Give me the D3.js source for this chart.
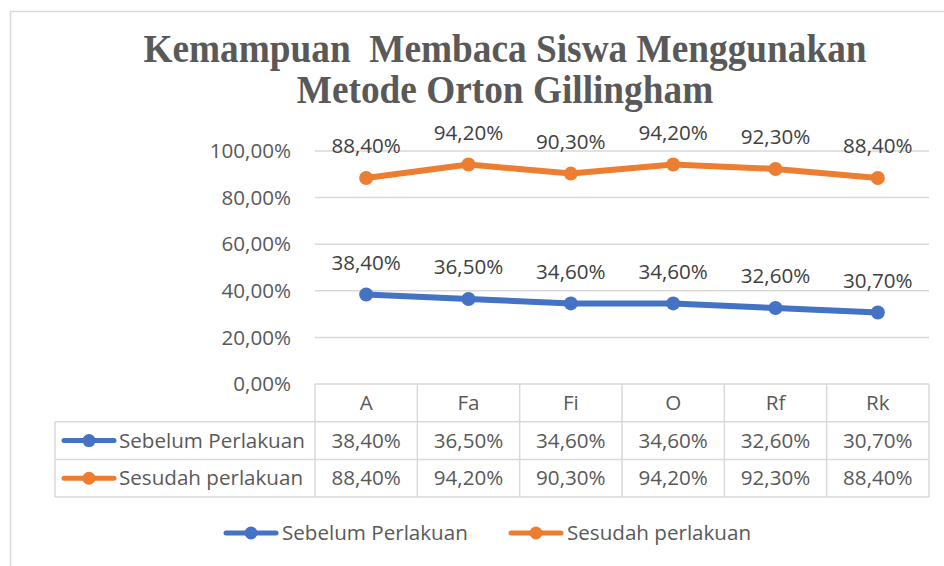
<!DOCTYPE html>
<html>
<head>
<meta charset="UTF-8">
<script src="https://cdn.jsdelivr.net/npm/d3@7"></script>
<style>
  body { margin: 0; background: #fff; }
  svg text { font-family: "Open Sans", Lato, sans-serif; }
</style>
</head>
<body>
<div id="chart"></div>
<script>
// data
var categories = ["A", "Fa", "Fi", "O", "Rf", "Rk"];
var sebelum = [0.384, 0.365, 0.346, 0.346, 0.326, 0.307];
var sesudah = [0.884, 0.942, 0.903, 0.942, 0.923, 0.884];
var seriesNames = ["Sebelum Perlakuan", "Sesudah perlakuan"];
var yTicks = [0, 0.2, 0.4, 0.6, 0.8, 1.0];
var titleLines = ["Kemampuan  Membaca Siswa Menggunakan", "Metode Orton Gillingham"];

var colors = ["#4472C4", "#ED7D31"];
var series = [sebelum, sesudah];

var width = 944, height = 566;
var plot = { left: 315, right: 929, top: 151, bottom: 384 };
var rowH = 37.7;
var legendColLeft = 55;
var fs = "20.6px";

var fmt = function (v) { return (v * 100).toFixed(2).replace(".", ",") + "%"; };

var svg = d3.select("#chart").append("svg")
    .attr("width", width)
    .attr("height", height);

// outer chart border
svg.append("rect")
    .attr("x", 10.5).attr("y", 11.5)
    .attr("width", 960).attr("height", 600)
    .attr("fill", "none")
    .attr("stroke", "#d9d9d9")
    .attr("stroke-width", 1.5);

// title (slightly taller glyphs than plain Times)
svg.append("g").selectAll("text")
    .data(titleLines)
  .enter().append("text")
    .attr("transform", function (d, i) { return "translate(505," + (62 + i * 41) + ") scale(1,1.08)"; })
    .attr("text-anchor", "middle")
    .attr("fill", "#595959")
    .attr("font-size", "37.3px")
    .attr("font-weight", "bold")
    .style("white-space", "pre")
    .style("font-family", "'Liberation Serif', 'Times New Roman', serif")
    .text(function (d) { return d; });

var x = d3.scaleBand().domain(categories).range([plot.left, plot.right]).padding(0);
var y = d3.scaleLinear().domain([0, 1]).range([plot.bottom, plot.top]);

// grid lines
svg.append("g").selectAll("line")
    .data(yTicks.slice(1))
  .enter().append("line")
    .attr("x1", plot.left).attr("x2", plot.right)
    .attr("y1", function (d) { return y(d); })
    .attr("y2", function (d) { return y(d); })
    .attr("stroke", "#d9d9d9")
    .attr("stroke-width", 1.5);

// y tick labels
svg.append("g").selectAll("text")
    .data(yTicks)
  .enter().append("text")
    .attr("x", 291)
    .attr("y", function (d) { return y(d); })
    .attr("dy", "0.35em")
    .attr("text-anchor", "end")
    .attr("fill", "#595959")
    .attr("font-size", fs)
    .text(fmt);

// data table
var tableTop = plot.bottom;
var table = svg.append("g").attr("stroke", "#d9d9d9").attr("stroke-width", 1.5);
table.append("line")
    .attr("x1", plot.left).attr("x2", plot.right)
    .attr("y1", tableTop).attr("y2", tableTop);
[1, 2, 3].forEach(function (r) {
  table.append("line")
      .attr("x1", legendColLeft).attr("x2", plot.right)
      .attr("y1", tableTop + r * rowH).attr("y2", tableTop + r * rowH);
});
table.selectAll(".vline")
    .data(categories.concat(["end"]))
  .enter().append("line")
    .attr("class", "vline")
    .attr("x1", function (d, i) { return plot.left + i * x.bandwidth(); })
    .attr("x2", function (d, i) { return plot.left + i * x.bandwidth(); })
    .attr("y1", tableTop).attr("y2", tableTop + 3 * rowH);
table.append("line")
    .attr("x1", legendColLeft).attr("x2", legendColLeft)
    .attr("y1", tableTop + rowH).attr("y2", tableTop + 3 * rowH);

// header row
svg.append("g").selectAll("text")
    .data(categories)
  .enter().append("text")
    .attr("x", function (d) { return x(d) + x.bandwidth() / 2; })
    .attr("y", tableTop + rowH / 2)
    .attr("dy", "0.35em")
    .attr("text-anchor", "middle")
    .attr("fill", "#595959")
    .attr("font-size", fs)
    .text(function (d) { return d; });

function legendKey(g, cx, cy, color) {
  g.append("line")
      .attr("x1", cx - 25).attr("x2", cx + 25)
      .attr("y1", cy).attr("y2", cy)
      .attr("stroke", color).attr("stroke-width", 5)
      .attr("stroke-linecap", "round");
  g.append("circle")
      .attr("cx", cx).attr("cy", cy).attr("r", 6.5)
      .attr("fill", color);
}

series.forEach(function (vals, s) {
  var cy = tableTop + (s + 1.5) * rowH;
  var row = svg.append("g");
  legendKey(row, 89, cy, colors[s]);
  row.append("text")
      .attr("x", 119).attr("y", cy).attr("dy", "0.35em")
      .attr("fill", "#595959").attr("font-size", fs)
      .text(seriesNames[s]);
  row.selectAll(".cell")
      .data(vals)
    .enter().append("text")
      .attr("class", "cell")
      .attr("x", function (d, i) { return x(categories[i]) + x.bandwidth() / 2; })
      .attr("y", cy).attr("dy", "0.35em")
      .attr("text-anchor", "middle")
      .attr("fill", "#595959").attr("font-size", fs)
      .text(fmt);
});

// lines, markers, labels
var line = d3.line()
    .x(function (d, i) { return x(categories[i]) + x.bandwidth() / 2; })
    .y(function (d) { return y(d); });

series.forEach(function (vals, s) {
  var g = svg.append("g");
  g.append("path")
      .attr("d", line(vals))
      .attr("fill", "none")
      .attr("stroke", colors[s])
      .attr("stroke-width", 6)
      .attr("stroke-linejoin", "round");
  g.selectAll("circle")
      .data(vals)
    .enter().append("circle")
      .attr("cx", function (d, i) { return x(categories[i]) + x.bandwidth() / 2; })
      .attr("cy", function (d) { return y(d); })
      .attr("r", 7)
      .attr("fill", colors[s]);
  g.selectAll("text")
      .data(vals)
    .enter().append("text")
      .attr("x", function (d, i) { return x(categories[i]) + x.bandwidth() / 2; })
      .attr("y", function (d) { return y(d) - 32; })
      .attr("dy", "0.35em")
      .attr("text-anchor", "middle")
      .attr("fill", "#404040")
      .attr("font-size", fs)
      .text(fmt);
});

// bottom legend
var legendPos = [251, 536];
series.forEach(function (vals, s) {
  var g = svg.append("g");
  legendKey(g, legendPos[s], 533, colors[s]);
  g.append("text")
      .attr("x", legendPos[s] + 31).attr("y", 533).attr("dy", "0.35em")
      .attr("fill", "#595959").attr("font-size", fs)
      .text(seriesNames[s]);
});
</script>
</body>
</html>
